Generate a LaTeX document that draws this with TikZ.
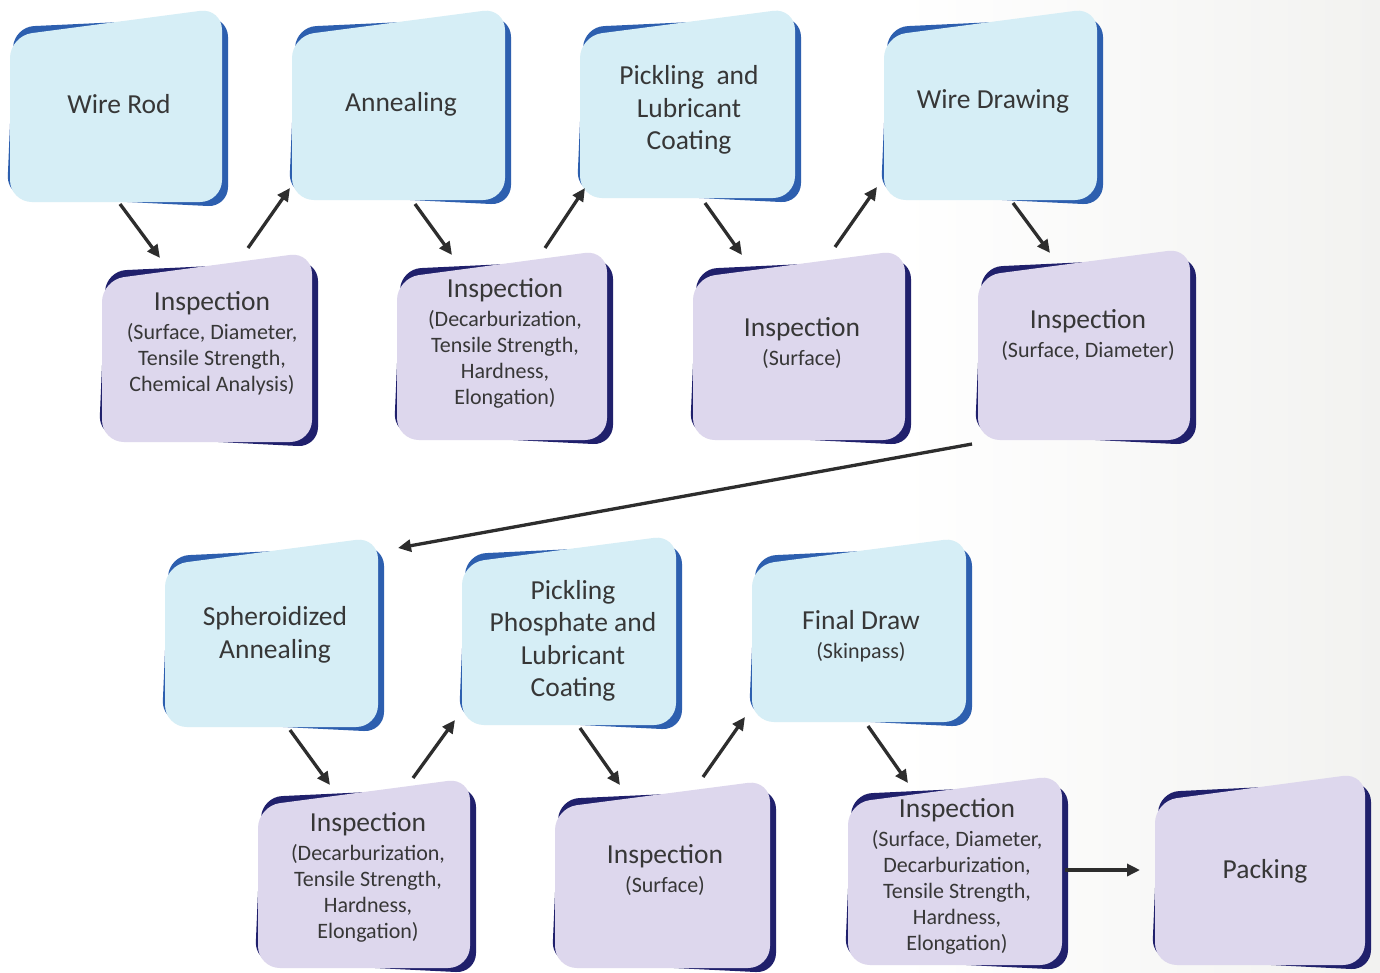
\documentclass[tikz,border=0pt]{standalone}
\usepackage{fontspec}
\setmainfont{Carlito}
\usetikzlibrary{arrows.meta,calc}
\definecolor{bluefront}{RGB}{214,238,246}
\definecolor{blueback}{RGB}{45,95,175}
\definecolor{purpfront}{RGB}{221,215,237}
\definecolor{purpback}{RGB}{32,32,108}
\definecolor{txtgray}{RGB}{55,55,55}
\definecolor{arrgray}{RGB}{45,45,45}
\definecolor{bggray}{RGB}{242,242,240}
\newcommand{\procbox}[6]{%
  \fill[#6back, rounded corners=20pt] (#2+4,#3+19) -- (#4+6,#3+9) -- (#4+6,#5+5) -- (#2-3,#5-6) -- cycle;
  \fill[#6front, rounded corners=22pt] (#2,#3+28) -- (#4,#3) -- (#4,#5) -- (#2,#5) -- cycle;
  \node[boxarea, minimum width={#4-#2}, minimum height={#5-#3}] (#1) at ({(#2+#4)/2},{(#3+#5)/2}) {};
}
\newcommand{\insptitle}{{\fontsize{27.5}{32}\selectfont Inspection}}
\begin{document}
\begin{tikzpicture}[x=1pt,y=-1pt,
  boxarea/.style={rectangle, inner sep=0pt, outer sep=0pt, draw=none},
  big/.style={text=txtgray, align=center, inner sep=0pt, font=\fontsize{27.5}{32.5}\selectfont},
  small/.style={text=txtgray, align=center, inner sep=0pt, font=\fontsize{22}{26}\selectfont},
  arr/.style={draw=arrgray, line width=3.3pt, -{Triangle[length=13pt,width=12pt]}}]
\useasboundingbox (0,0) rectangle (1380,972);
\fill[white] (0,0) rectangle (1380,972);
\shade[left color=white, right color=bggray] (900,0) rectangle (1380,972);

% row 1
\procbox{wr}{10}{8}{222}{202}{blue}
\procbox{an}{292}{8}{505}{200}{blue}
\procbox{pl}{580}{8}{795}{198}{blue}
\procbox{wd}{884}{8}{1097}{200}{blue}
% row 2
\procbox{ia}{102}{252}{312}{442}{purp}
\procbox{ib}{397}{250}{607}{440}{purp}
\procbox{ic}{693}{250}{905}{440}{purp}
\procbox{id}{978}{248}{1190}{440}{purp}
% row 3
\procbox{sa}{165}{537}{378}{727}{blue}
\procbox{pp}{462}{535}{676}{725}{blue}
\procbox{fd}{752}{537}{966}{722}{blue}
% row 4
\procbox{ie}{258}{778}{470}{968}{purp}
\procbox{if}{555}{780}{770}{968}{purp}
\procbox{ig}{848}{775}{1062}{965}{purp}
\procbox{pk}{1155}{773}{1365}{965}{purp}

% texts
\node[big] (wr-t) at (119,104) {Wire Rod};
\node[big] (an-t) at (401,104) {Annealing};
\node[big] (pl-t) at (689,110) {Pickling\ \ and\\Lubricant\\Coating};
\node[big] (wd-t) at (993,101) {Wire Drawing};
\node[small] (ia-t) at (212,343) {\insptitle\\[3pt](Surface, Diameter,\\Tensile Strength,\\Chemical Analysis)};
\node[small] (ib-t) at (505,343) {\insptitle\\[3pt](Decarburization,\\Tensile Strength,\\Hardness,\\Elongation)};
\node[small] (ic-t) at (802,343) {\insptitle\\[3pt](Surface)};
\node[small] (id-t) at (1088,335) {\insptitle\\[3pt](Surface, Diameter)};
\node[big] (sa-t) at (275,635) {Spheroidized\\Annealing};
\node[big] (pp-t) at (573,641) {Pickling\\Phosphate and\\Lubricant\\Coating};
\node[small] (fd-t) at (861,636) {{\fontsize{27.5}{32}\selectfont Final Draw}\\[3pt](Skinpass)};
\node[small] (ie-t) at (368,877) {\insptitle\\[3pt](Decarburization,\\Tensile Strength,\\Hardness,\\Elongation)};
\node[small] (if-t) at (665,870) {\insptitle\\[3pt](Surface)};
\node[small] (ig-t) at (957,876) {\insptitle\\[3pt](Surface, Diameter,\\Decarburization,\\Tensile Strength,\\Hardness,\\Elongation)};
\node[big] (pk-t) at (1265,871) {Packing};

% connectors
\draw[arr] ([shift={(4,2)}]wr.south) -- ([shift={(-47,6)}]ia.north);
\draw[arr] ([shift={(41,-4)}]ia.north) -- ([shift={(-2,-12)}]an.south west);
\draw[arr] ([shift={(16.5,4)}]an.south) -- ([shift={(-50,5)}]ib.north);
\draw[arr] ([shift={(43,-2)}]ib.north) -- ([shift={(5,-10)}]pl.south west);
\draw[arr] ([shift={(17.5,5)}]pl.south) -- ([shift={(-57,5)}]ic.north);
\draw[arr] ([shift={(36,-3)}]ic.north) -- ([shift={(-7,-13)}]wd.south west);
\draw[arr] ([shift={(22.5,3)}]wd.south) -- ([shift={(-34,5)}]id.north);
\draw[arr] ([shift={(-6,4)}]id.south west) -- ([shift={(20,11)}]sa.north east);
\draw[arr] ([shift={(18.5,3)}]sa.south) -- ([shift={(-34,7)}]ie.north);
\draw[arr] ([shift={(49,0)}]ie.north) -- ([shift={(-7,-5)}]pp.south west);
\draw[arr] ([shift={(11,3)}]pp.south) -- ([shift={(-42.5,5)}]if.north);
\draw[arr] ([shift={(40.5,-3)}]if.north) -- ([shift={(-7,-5)}]fd.south west);
\draw[arr] ([shift={(9,4)}]fd.south) -- ([shift={(-47,8)}]ig.north);
\draw[arr] ([shift={(3,0)}]ig.east) -- ([shift={(-15,1)}]pk.west);
\end{tikzpicture}
\end{document}
